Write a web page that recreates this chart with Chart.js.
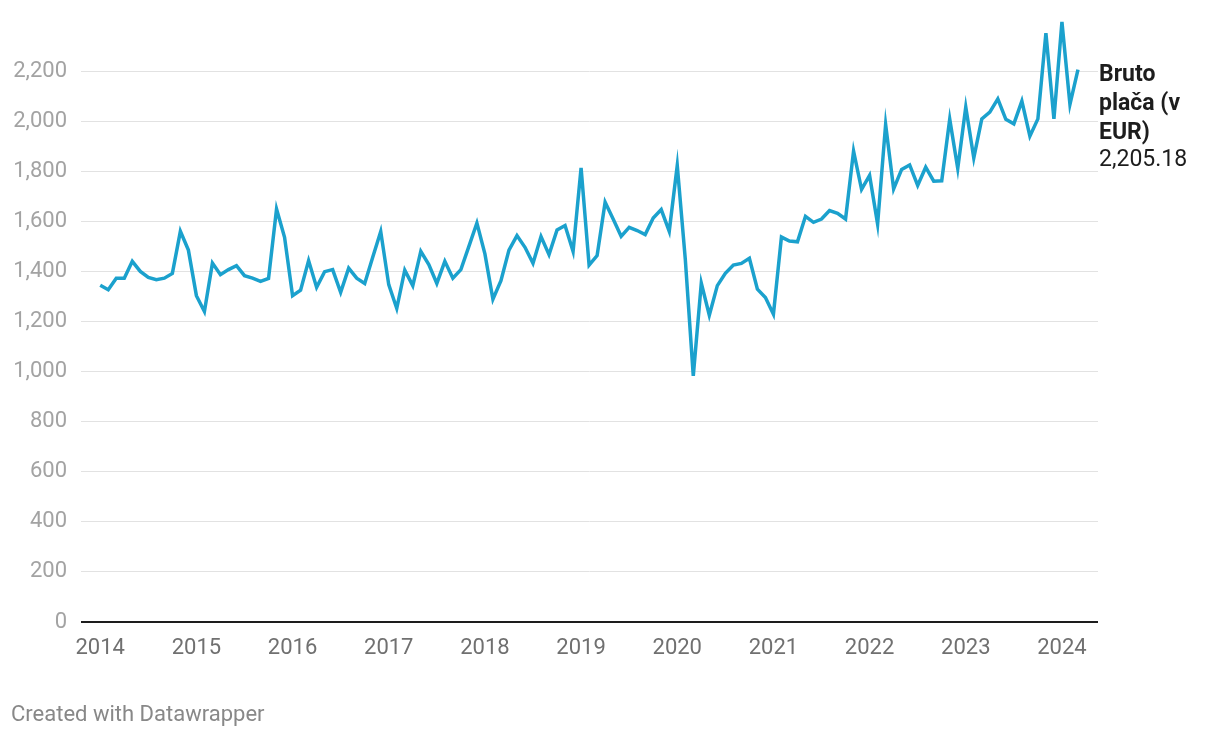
<!DOCTYPE html>
<html>
<head>
<meta charset="utf-8">
<script src="https://cdn.jsdelivr.net/npm/chart.js@4/dist/chart.umd.min.js"></script>
<style>
  html, body { margin: 0; padding: 0; background: #fff; }
  #wrap { position: relative; width: 1220px; height: 738px; }
  #footer {
    position: absolute; left: 11px; top: 701px;
    font: 22px Roboto, sans-serif; color: #888;
  }
</style>
</head>
<body>
<div id="wrap">
  <canvas id="wageChart" width="1220" height="738"></canvas>
  <div id="footer">Created with Datawrapper</div>
</div>
<script>
// Monthly gross wage (EUR), January 2014 - March 2024
const startYear = 2014;
const wages2014 = [1345, 1327, 1373, 1373, 1440, 1400, 1376, 1367, 1373, 1392, 1560, 1485];
const wages2015 = [1303, 1240, 1433, 1387, 1407, 1423, 1383, 1373, 1360, 1372, 1649, 1536];
const wages2016 = [1303, 1325, 1443, 1336, 1399, 1407, 1316, 1413, 1373, 1352, 1456, 1559];
const wages2017 = [1347, 1252, 1405, 1343, 1480, 1427, 1352, 1440, 1373, 1407, 1500, 1593];
const wages2018 = [1470, 1289, 1363, 1485, 1543, 1496, 1432, 1539, 1467, 1565, 1583, 1480];
const wages2019 = [1813, 1425, 1463, 1676, 1609, 1540, 1576, 1563, 1547, 1613, 1647, 1560];
const wages2020 = [1823, 1450, 983, 1353, 1225, 1343, 1392, 1425, 1432, 1452, 1329, 1296];
const wages2021 = [1229, 1537, 1521, 1518, 1620, 1596, 1609, 1643, 1632, 1609, 1880, 1727];
const wages2022 = [1783, 1589, 1987, 1729, 1807, 1825, 1743, 1816, 1760, 1762, 2008, 1811];
const wages2023 = [2056, 1853, 2009, 2036, 2089, 2007, 1989, 2080, 1940, 2009, 2351, 2009];
const wages2024 = [2396, 2067, 2205.18];

const yearTicks = [2014, 2015, 2016, 2017, 2018, 2019, 2020, 2021, 2022, 2023, 2024];
const valueTicks = [0, 200, 400, 600, 800, 1000, 1200, 1400, 1600, 1800, 2000, 2200];
const seriesName = ['Bruto', 'plača (v', 'EUR)'];

const allWages = [].concat(wages2014, wages2015, wages2016, wages2017, wages2018,
  wages2019, wages2020, wages2021, wages2022, wages2023, wages2024);
const points = allWages.map((v, i) => ({ x: startYear + i / 12, y: v }));

Chart.defaults.font.family = 'Roboto, sans-serif';

// label next to the last point
const endLabel = {
  id: 'endLabel',
  afterDatasetsDraw(chart) {
    const ctx = chart.ctx;
    const x = chart.chartArea.right + 1;
    const last = allWages[allWages.length - 1];
    ctx.save();
    ctx.textAlign = 'left';
    ctx.textBaseline = 'alphabetic';
    ctx.fillStyle = '#1d1d1d';
    ctx.font = 'bold 23px Roboto, sans-serif';
    seriesName.forEach((line, i) => ctx.fillText(line, x, 81 + i * 29));
    ctx.font = '23px Roboto, sans-serif';
    ctx.fillText(last.toLocaleString('en-US', { minimumFractionDigits: 2 }), x, 166);
    ctx.restore();
  }
};

new Chart(document.getElementById('wageChart'), {
  type: 'line',
  data: {
    datasets: [{
      label: 'Bruto plača (v EUR)',
      data: points,
      borderColor: '#1ba1cd',
      borderWidth: 3.5,
      pointRadius: 0,
      tension: 0,
      fill: false,
      clip: false
    }]
  },
  options: {
    responsive: false,
    animation: false,
    layout: { padding: { top: 4, right: 122, bottom: 0, left: 0 } },
    plugins: { legend: { display: false }, tooltip: { enabled: false } },
    scales: {
      x: {
        type: 'linear',
        min: 2013.8,
        max: 2024.375,
        afterBuildTicks: (axis) => { axis.ticks = yearTicks.map(v => ({ value: v })); },
        afterFit: (axis) => { axis.height = 116; },
        grid: { display: false },
        border: { display: false },
        ticks: {
          padding: 5,
          color: '#707070',
          font: { size: 22 },
          maxRotation: 0,
          autoSkip: false,
          callback: (v) => String(v)
        }
      },
      y: {
        min: 0,
        max: 2375,
        afterBuildTicks: (axis) => { axis.ticks = valueTicks.map(v => ({ value: v })); },
        afterFit: (axis) => { axis.width = 81; },
        border: { display: false },
        grid: {
          drawTicks: false,
          color: (c) => c.tick && c.tick.value === 0 ? '#1d1d1d' : '#e2e2e2',
          lineWidth: (c) => c.tick && c.tick.value === 0 ? 2 : 1
        },
        ticks: {
          padding: 14,
          color: '#a3a3a3',
          font: { size: 22 },
          callback: (v) => v.toLocaleString('en-US')
        }
      }
    }
  },
  plugins: [endLabel]
});
</script>
</body>
</html>
